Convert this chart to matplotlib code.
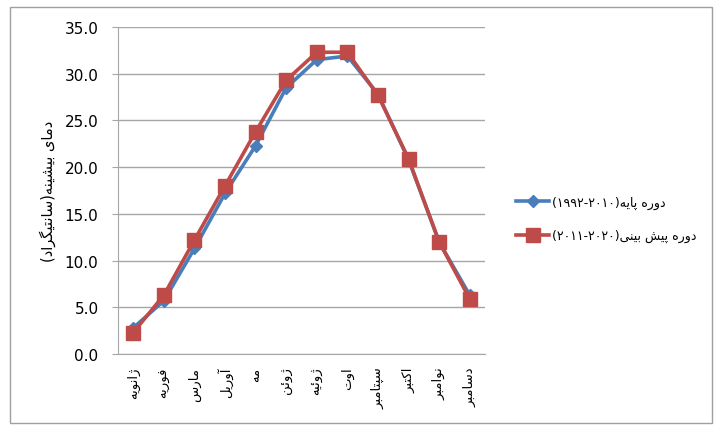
import matplotlib
matplotlib.use('Agg')
import matplotlib.pyplot as plt
from matplotlib.patches import Rectangle

# monthly mean max temperature, base period vs projection
months = ['ژانویه', 'فوریه', 'مارس', 'آوریل', 'مه', 'ژوئن',
          'ژوئیه', 'اوت', 'سپتامبر', 'اکتبر', 'نوامبر', 'دسامبر']
basePeriod = [2.8, 5.7, 11.3, 17.2, 22.3, 28.5, 31.5, 31.9, 27.8, 20.8, 12.0, 6.3]
futurePeriod = [2.3, 6.3, 12.2, 18.0, 23.8, 29.3, 32.3, 32.3, 27.7, 20.9, 12.0, 5.9]
yTicks = [0, 5, 10, 15, 20, 25, 30, 35]

baseName = 'دوره پایه'
baseYears = '(۱۹۹۲-۲۰۱۰)'
futureName = 'دوره پیش بینی'
futureYears = '(۲۰۱۱-۲۰۲۰)'
yName = 'دمای بیشینه'
yUnit = 'سانتیگراد'

# contextual forms: isolated, final, initial, medial (None = no left join)
forms = {
    'ا': ('\uFE8D', '\uFE8E', None, None),
    'آ': ('\uFE81', '\uFE82', None, None),
    'د': ('\uFEA9', '\uFEAA', None, None),
    'ر': ('\uFEAD', '\uFEAE', None, None),
    'ز': ('\uFEAF', '\uFEB0', None, None),
    'ژ': ('\uFB8A', '\uFB8B', None, None),
    'و': ('\uFEED', '\uFEEE', None, None),
    'ب': ('\uFE8F', '\uFE90', '\uFE91', '\uFE92'),
    'ت': ('\uFE95', '\uFE96', '\uFE97', '\uFE98'),
    'س': ('\uFEB1', '\uFEB2', '\uFEB3', '\uFEB4'),
    'ش': ('\uFEB5', '\uFEB6', '\uFEB7', '\uFEB8'),
    'ف': ('\uFED1', '\uFED2', '\uFED3', '\uFED4'),
    'ل': ('\uFEDD', '\uFEDE', '\uFEDF', '\uFEE0'),
    'م': ('\uFEE1', '\uFEE2', '\uFEE3', '\uFEE4'),
    'ن': ('\uFEE5', '\uFEE6', '\uFEE7', '\uFEE8'),
    'ه': ('\uFEE9', '\uFEEA', '\uFEEB', '\uFEEC'),
    'ئ': ('\uFE89', '\uFE8A', '\uFE8B', '\uFE8C'),
    'ی': ('\uFBFC', '\uFBFD', '\uFBFE', '\uFBFF'),
    'پ': ('\uFB56', '\uFB57', '\uFB58', '\uFB59'),
    'ک': ('\uFB8E', '\uFB8F', '\uFB90', '\uFB91'),
    'گ': ('\uFB92', '\uFB93', '\uFB94', '\uFB95'),
}


def shape(text):
    out = []
    for i, ch in enumerate(text):
        if ch not in forms:
            out.append(ch)
            continue
        prev = text[i - 1] if i > 0 else ''
        nxt = text[i + 1] if i + 1 < len(text) else ''
        joinPrev = prev in forms and forms[prev][2] is not None
        joinNext = forms[ch][2] is not None and nxt in forms
        iso, fin, ini, med = forms[ch]
        if joinPrev and joinNext:
            out.append(med)
        elif joinPrev:
            out.append(fin)
        elif joinNext:
            out.append(ini)
        else:
            out.append(iso)
    return ''.join(reversed(out))


blue = '#4A7EBB'
red = '#BE4B48'
grid = '#A6A6A6'

fig = plt.figure(figsize=(7.15, 4.27), dpi=100)
ax = fig.add_axes([118/715, 1-355/427, 367/715, 327/427])

x = list(range(len(months)))
ax.plot(x, basePeriod, color=blue, lw=2.6, marker='D', ms=6.5,
        label=baseYears + shape(baseName), zorder=3)
ax.plot(x, futurePeriod, color=red, lw=2.6, marker='s', ms=9.5,
        label=futureYears + shape(futureName), zorder=4)

ax.set_xlim(-0.5, len(months) - 0.5)
ax.set_ylim(0, 35)
ax.set_yticks(yTicks)
ax.set_yticklabels(['%.1f' % v for v in yTicks], fontsize=11)
ax.set_xticks(x)
ax.set_xticklabels([shape(m) for m in months], rotation=90, fontsize=9.5)
ax.tick_params(axis='x', length=0, pad=9)
ax.tick_params(axis='y', length=4, color=grid, pad=10)
ax.yaxis.grid(True, color=grid, lw=1)
ax.set_axisbelow(True)
for s in ['top', 'right']:
    ax.spines[s].set_visible(False)
ax.spines['left'].set_color(grid)
ax.spines['bottom'].set_color(grid)
ax.set_ylabel('(' + shape(yUnit) + ')' + shape(yName), fontsize=10.5, labelpad=6)

fig.legend(loc='center left', bbox_to_anchor=(505/715, 1-220/427),
           frameon=False, fontsize=9, handlelength=2.6, labelspacing=1.6,
           handletextpad=0.3)

fig.patches.append(Rectangle((10/715, 3/427), 702/715, 416/427,
                             transform=fig.transFigure, fill=False,
                             edgecolor='#A0A0A0', lw=1))

fig.savefig('out.png', dpi=100)
